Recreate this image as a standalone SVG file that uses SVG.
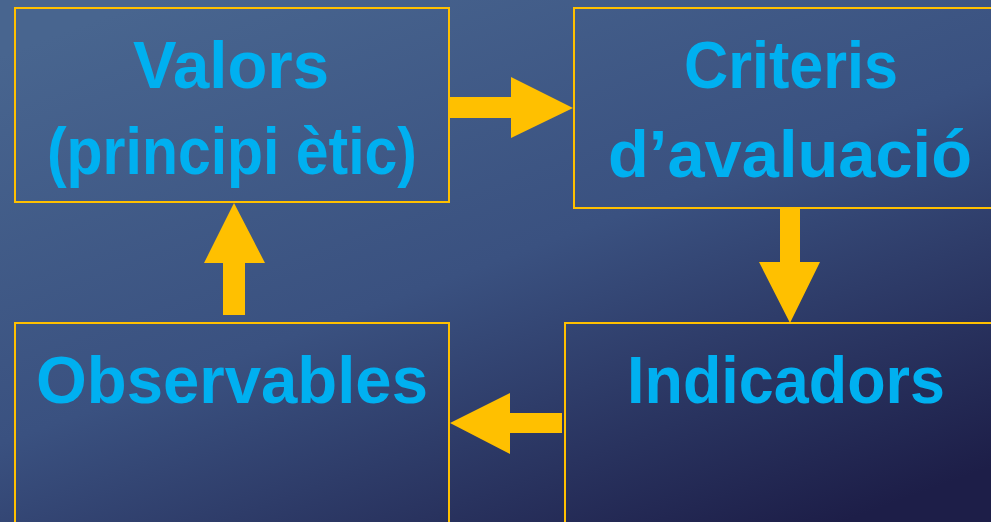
<svg xmlns="http://www.w3.org/2000/svg" width="991" height="522" viewBox="0 0 991 522">
  <defs>
    <linearGradient id="bg" x1="0.15" y1="0" x2="0.85" y2="1">
      <stop offset="0" stop-color="#48658f"/>
      <stop offset="0.5" stop-color="#3a5180"/>
      <stop offset="1" stop-color="#1d1e48"/>
    </linearGradient>
    <style>
      .box { fill: none; stroke: #ffc000; stroke-width: 2; }
      .label { font-family: "Liberation Sans", Arial, sans-serif; font-weight: bold; font-size: 67px; fill: #00b0f0; }
      .arrow { fill: #ffc000; }
    </style>
  </defs>

  <rect x="0" y="0" width="991" height="522" fill="url(#bg)"/>

  <g id="valors">
    <rect class="box" x="15" y="8" width="434" height="194"/>
    <text class="label" x="133" y="88" textLength="196" lengthAdjust="spacingAndGlyphs">Valors</text>
    <text class="label" x="47" y="174" textLength="370" lengthAdjust="spacingAndGlyphs">(principi ètic)</text>
  </g>

  <g id="criteris">
    <rect class="box" x="574" y="8" width="434" height="200"/>
    <text class="label" x="684" y="88" textLength="214" lengthAdjust="spacingAndGlyphs">Criteris</text>
    <text class="label" x="608" y="177" textLength="364" lengthAdjust="spacingAndGlyphs">d’avaluació</text>
  </g>

  <g id="indicadors">
    <rect class="box" x="565" y="323" width="450" height="220"/>
    <text class="label" x="627" y="403" textLength="318" lengthAdjust="spacingAndGlyphs">Indicadors</text>
  </g>

  <g id="observables">
    <rect class="box" x="15" y="323" width="434" height="220"/>
    <text class="label" x="36" y="403" textLength="392" lengthAdjust="spacingAndGlyphs">Observables</text>
  </g>

  <g id="connectors">
    <!-- Valors to Criteris -->
    <polygon class="arrow" points="449,97 511,97 511,77 573,108 511,138 511,118 449,118"/>
    <!-- Criteris to Indicadors -->
    <polygon class="arrow" points="780,209 800,209 800,262 820,262 790,323 759,262 780,262"/>
    <!-- Indicadors to Observables -->
    <polygon class="arrow" points="562,413 510,413 510,393 450,423 510,454 510,433 562,433"/>
    <!-- Observables to Valors -->
    <polygon class="arrow" points="223,315 245,315 245,263 265,263 234,203 204,263 223,263"/>
  </g>
</svg>
